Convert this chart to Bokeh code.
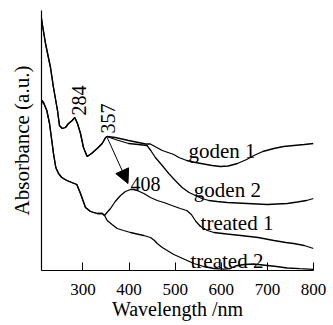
from bokeh.plotting import figure
from bokeh.models import FixedTicker, Arrow, NormalHead
from bokeh.core.properties import value
from bokeh.embed import file_html
from bokeh.resources import INLINE
import math

# --- data ---
goden1_wl = [210, 211.5, 218.7, 229.5, 236, 244.7, 249, 254.9, 262, 268.6, 276.6, 282.2, 288, 294.6, 301, 309,
             318.5, 330.8, 341.7, 349, 352.5, 370, 399, 420, 436, 446, 472, 497, 508, 525, 544, 562, 580, 598,
             615, 635, 655, 671, 690, 714, 735, 757, 780, 800]
goden1_abs = [2.52, 2.47, 2.27, 2.03, 1.83, 1.60, 1.45, 1.42, 1.43, 1.47, 1.50, 1.53, 1.47, 1.37, 1.23, 1.14,
              1.17, 1.22, 1.27, 1.33, 1.34, 1.33, 1.30, 1.28, 1.265, 1.265, 1.20, 1.16, 1.13, 1.10, 1.08, 1.065, 1.05, 1.04,
              1.045, 1.07, 1.11, 1.15, 1.19, 1.22, 1.24, 1.25, 1.26, 1.27]

goden2_wl = [210, 211.5, 218.7, 229.5, 236, 244.7, 249, 254.9, 262, 268.6, 276.6, 282.2, 288, 294.6, 301, 309,
             318.5, 330.8, 341.7, 349, 352.5, 370, 399, 420, 439, 447, 457, 470, 486, 500, 515, 530, 544, 558,
             573, 591, 613, 635, 656, 678, 700, 721, 743, 765, 785, 800]
goden2_abs = [2.52, 2.47, 2.27, 2.03, 1.83, 1.60, 1.45, 1.42, 1.43, 1.47, 1.50, 1.53, 1.47, 1.37, 1.23, 1.14,
              1.17, 1.22, 1.27, 1.33, 1.34, 1.31, 1.27, 1.26, 1.25, 1.20, 1.13, 1.06, 0.97, 0.90, 0.83, 0.78, 0.75, 0.72,
              0.70, 0.69, 0.68, 0.675, 0.67, 0.665, 0.66, 0.665, 0.67, 0.685, 0.70, 0.72]

treated1_wl = [210, 210.7, 214.3, 221.5, 227.4, 232.3, 236, 241, 246.9, 254, 264.9, 275.7, 286.6, 294.6, 300,
               305.4, 316.3, 330.8, 341.7, 346.7, 352, 359.7, 370, 381.4, 392, 403, 410, 417.6, 432, 446.4, 461,
               475.3, 493, 511, 525, 535, 545, 555, 570, 584, 612, 642, 680, 714, 740, 757, 780, 800]
treated1_abs = [1.66, 1.70, 1.68, 1.60, 1.47, 1.30, 1.17, 1.03, 0.97, 0.93, 0.90, 0.88, 0.86, 0.77, 0.70,
                0.63, 0.59, 0.57, 0.57, 0.55, 0.58, 0.62, 0.69, 0.75, 0.79, 0.81, 0.81, 0.80, 0.77, 0.73, 0.70,
                0.68, 0.65, 0.62, 0.60, 0.56, 0.49, 0.44, 0.40, 0.38, 0.365, 0.35, 0.33, 0.30, 0.28, 0.27, 0.25, 0.22]

treated2_wl = [210, 210.7, 214.3, 221.5, 227.4, 232.3, 236, 241, 246.9, 254, 264.9, 275.7, 286.6, 294.6, 300,
               305.4, 316.3, 330.8, 341.7, 346.7, 352.5, 363, 374.2, 388, 403, 417, 431.9, 446.4, 455, 461, 472,
               482.7, 497, 511.5, 526, 540.4, 562, 583.8, 605, 620, 630, 650, 670, 700, 720, 743, 770, 800]
treated2_abs = [1.66, 1.70, 1.68, 1.60, 1.47, 1.30, 1.17, 1.03, 0.97, 0.93, 0.90, 0.88, 0.86, 0.77, 0.70,
                0.63, 0.59, 0.57, 0.57, 0.55, 0.50, 0.46, 0.42, 0.40, 0.38, 0.365, 0.35, 0.33, 0.30, 0.27, 0.23,
                0.20, 0.16, 0.13, 0.10, 0.07, 0.04, 0.02, 0.013, 0.02, 0.045, 0.06, 0.065, 0.05, 0.04, 0.025, 0.018, 0.012]

x_ticks = [300, 400, 500, 600, 700, 800]

# peak annotations (rotated) and curve names
peak_text = ["284", "357"]
peak_x = [292.4, 354.3]
peak_y = [1.55, 1.37]

label408_text = ["408"]
label408_x = [403]
label408_y = [0.867]

name_text = ["goden 1", "goden 2", "treated 1", "treated 2"]
name_x = [528.9, 540.4, 555, 533.2]
name_y = [1.20, 0.805, 0.473, 0.10]

arrow_start = (352.5, 1.33)
arrow_end = (397.6, 0.87)

FONT = "Liberation Serif"

p = figure(width=333, height=325, x_range=(210, 800), y_range=(0, 2.6),
           output_backend="svg", toolbar_location=None,
           min_border_left=41, min_border_right=20, min_border_top=10, min_border_bottom=55)
p.outline_line_color = None
p.xgrid.grid_line_color = None
p.ygrid.grid_line_color = None
p.background_fill_color = "white"
p.border_fill_color = "white"

lw = 1.3
for xs, ys in [(goden1_wl, goden1_abs), (goden2_wl, goden2_abs),
               (treated1_wl, treated1_abs), (treated2_wl, treated2_abs)]:
    p.line(xs, ys, line_color="black", line_width=lw)

# x axis
p.xaxis.ticker = FixedTicker(ticks=x_ticks)
p.xaxis.major_tick_in = 8
p.xaxis.major_tick_out = 0
p.xaxis.minor_tick_line_color = None
p.xaxis.major_tick_line_color = "black"
p.xaxis.axis_line_color = "black"
p.xaxis.axis_line_width = 1.2
p.xaxis.major_label_text_font = FONT
p.xaxis.major_label_text_font_size = "17px"
p.xaxis.major_label_text_color = "black"
p.xaxis.major_label_standoff = 13
p.xaxis.axis_label = "Wavelength /nm"
p.xaxis.axis_label_text_font = FONT
p.xaxis.axis_label_text_font_size = "20px"
p.xaxis.axis_label_text_font_style = "normal"
p.xaxis.axis_label_text_color = "black"
p.xaxis.axis_label_standoff = 0

# y axis
p.yaxis.ticker = FixedTicker(ticks=[])
p.yaxis.major_tick_line_color = None
p.yaxis.minor_tick_line_color = None
p.yaxis.axis_line_color = "black"
p.yaxis.axis_line_width = 1.2
p.yaxis.axis_label = "Absorbance (a.u.)"
p.yaxis.axis_label_text_font = FONT
p.yaxis.axis_label_text_font_size = "21px"
p.yaxis.axis_label_text_font_style = "normal"
p.yaxis.axis_label_text_color = "black"
p.yaxis.axis_label_standoff = 8

# annotations
p.text(x=peak_x, y=peak_y, text=peak_text, angle=math.pi / 2,
       text_font=value(FONT), text_font_size="20px", text_align="left",
       text_baseline="alphabetic", text_color="black")
p.text(x=label408_x, y=label408_y, text=label408_text,
       text_font=value(FONT), text_font_size="20px", text_align="left",
       text_baseline="alphabetic", text_color="black")
p.text(x=name_x, y=name_y, text=name_text,
       text_font=value(FONT), text_font_size="21px", text_align="left",
       text_baseline="alphabetic", text_color="black")

p.add_layout(Arrow(x_start=arrow_start[0], y_start=arrow_start[1],
                   x_end=arrow_end[0], y_end=arrow_end[1], line_width=1,
                   end=NormalHead(size=14, fill_color="black", line_color="black")))

open("out.html", "w").write(file_html(p, INLINE))
